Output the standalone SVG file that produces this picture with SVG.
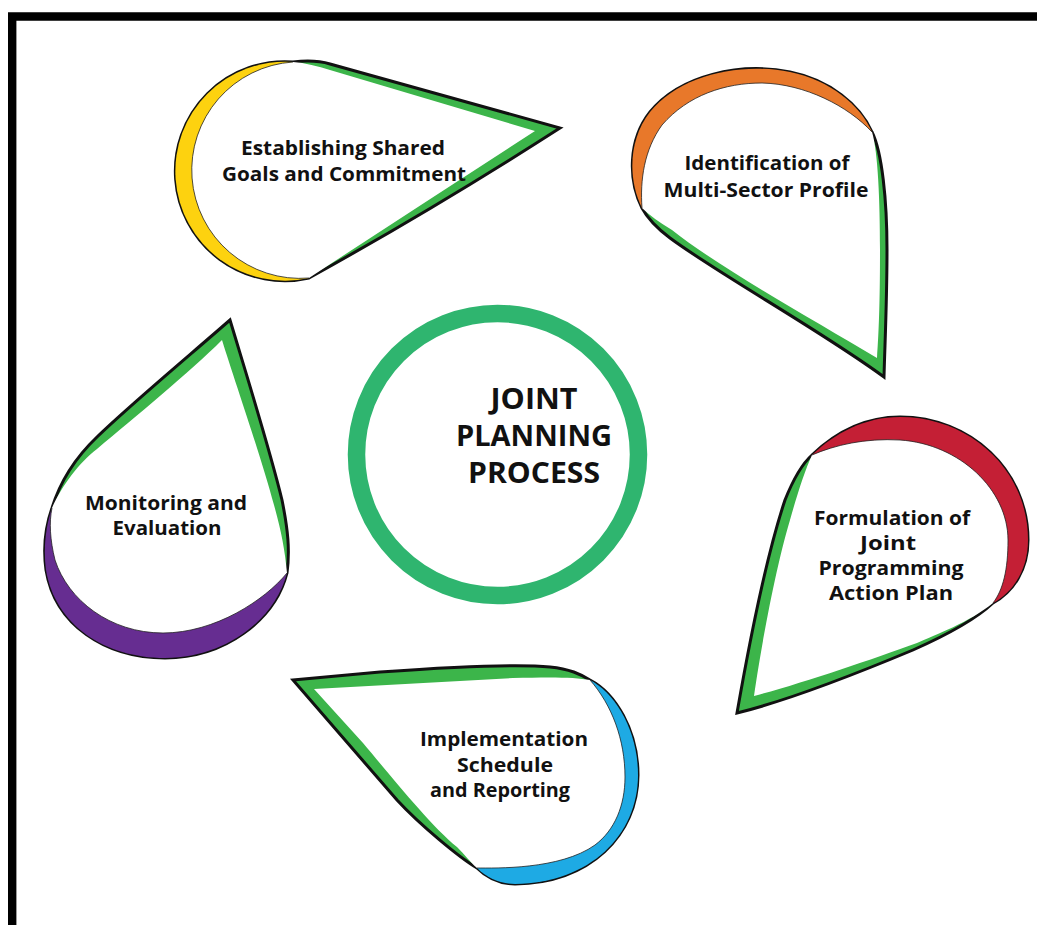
<svg xmlns="http://www.w3.org/2000/svg" width="1037" height="925" viewBox="0 0 1037 925">
<style>
.out{fill:#3cb54a;stroke:#111;stroke-width:3;stroke-linejoin:miter;stroke-miterlimit:12}
.in{fill:#fff}
.edge{fill:none;stroke:#222;stroke-width:0.8}
.lbl{font-family:"Open Sans","Liberation Sans",sans-serif;font-weight:700;font-size:20px;fill:#111;text-anchor:middle}
.big{font-size:28px}
</style>
<rect width="1037" height="925" fill="#fff"/>
<path id="frame" d="M12.2,925 V16.5 H1037" fill="none" stroke="#000" stroke-width="8.4"/>

<g id="center">
<circle cx="497.5" cy="454.5" r="141" fill="#fff" stroke="#2fb56f" stroke-width="17.5"/>
<text class="lbl big" x="534" y="409" textLength="87" lengthAdjust="spacingAndGlyphs">JOINT</text>
<text class="lbl big" x="534" y="446" textLength="156" lengthAdjust="spacingAndGlyphs">PLANNING</text>
<text class="lbl big" x="534" y="483" textLength="132" lengthAdjust="spacingAndGlyphs">PROCESS</text>
</g>

<g id="node-goals">
<path class="out" d="M293,62 C310,60 320,61 330,64 L560,128 Q437,207 309,278 A109.5,109.5 0 1 1 293,62 Z"/>
<path fill="#fdd20f" d="M293,62 A109.5,109.5 0 1 0 309,278 Z"/>
<path class="in" d="M293,62 C305,63 318,66 330,70 L535,131 Q422,204 309,278 A108.3,108.3 0 1 1 293,62 Z"/>
<path class="edge" d="M309,278 A108.3,108.3 0 1 1 293,62"/>
<text class="lbl" x="343" y="155" textLength="204" lengthAdjust="spacingAndGlyphs">Establishing Shared</text>
<text class="lbl" x="344" y="181" textLength="244" lengthAdjust="spacingAndGlyphs">Goals and Commitment</text>
</g>

<g id="node-profile">
<path class="out" d="M642,208 C628,180 628,140 650,112 C680,75 740,62 790,72 C830,80 860,105 872,132 C882,152 887,200 887,250 C887,300 885,340 884,377 C820,330 720,275 670,238 Q650,223 642,208 Z"/>
<path fill="#e8782a" d="M642,208 C628,180 628,140 650,112 C680,75 740,62 790,72 C830,80 860,105 872,132 Z"/>
<path class="in" d="M642,208 C640,180 644,150 662,125 C688,95 725,83 762,83 C805,84 848,106 872,132 C878,152 880,200 880,250 C880,300 879,330 877,358 C810,318 720,268 672,230 Q652,218 642,208 Z"/>
<path class="edge" d="M642,208 C640,180 644,150 662,125 C688,95 725,83 762,83 C805,84 848,106 872,132"/>
<text class="lbl" x="767" y="170" textLength="165" lengthAdjust="spacingAndGlyphs">Identification of</text>
<text class="lbl" x="766" y="197" textLength="205" lengthAdjust="spacingAndGlyphs">Multi-Sector Profile</text>
</g>

<g id="node-monitoring">
<path class="out" d="M52,508 C60,482 75,458 97,437 C130,405 190,355 230,320 C245,370 270,450 282,500 C288,530 290,550 287,573 C275,620 225,658 165,658 C105,658 55,625 46,570 C43,548 46,525 52,508 Z"/>
<path fill="#662d91" d="M287,573 C275,620 225,658 165,658 C105,658 55,625 46,570 C43,548 46,525 52,508 Z"/>
<path class="in" d="M52,508 C62,485 80,462 97,449 C135,417 190,372 222,340 C235,382 261,456 274,505 C281,530 285,550 287,573 C265,600 215,633 163,633 C110,633 68,600 55,560 C50,540 49,522 52,508 Z"/>
<path class="edge" d="M287,573 C265,600 215,633 163,633 C110,633 68,600 55,560 C50,540 49,522 52,508"/>
<text class="lbl" x="166" y="510" textLength="162" lengthAdjust="spacingAndGlyphs">Monitoring and</text>
<text class="lbl" x="167" y="535" textLength="109" lengthAdjust="spacingAndGlyphs">Evaluation</text>
</g>

<g id="node-action">
<path class="out" d="M812,455 C835,433 865,417 900,417 C970,417 1028,470 1028,540 C1028,570 1013,592 993,603 C975,620 940,638 913,650 C870,668 790,700 737,713 C748,650 765,560 785,500 C795,475 803,463 812,455 Z"/>
<path fill="#c41f35" d="M812,455 C835,433 865,417 900,417 C970,417 1028,470 1028,540 C1028,570 1013,592 993,603 Z"/>
<path class="in" d="M812,455 C835,445 865,438 900,440 C960,444 1008,490 1008,540 C1008,570 1003,590 993,603 C970,622 935,635 917,643 C870,660 800,684 754,696 C761,648 775,570 790,520 C797,495 805,470 812,455 Z"/>
<path class="edge" d="M812,455 C835,445 865,438 900,440 C960,444 1008,490 1008,540 C1008,570 1003,590 993,603"/>
<text class="lbl" x="892" y="525" textLength="156" lengthAdjust="spacingAndGlyphs">Formulation of</text>
<text class="lbl" x="888" y="550" textLength="56" lengthAdjust="spacingAndGlyphs">Joint</text>
<text class="lbl" x="891" y="575" textLength="145" lengthAdjust="spacingAndGlyphs">Programming</text>
<text class="lbl" x="891" y="600" textLength="124" lengthAdjust="spacingAndGlyphs">Action Plan</text>
</g>

<g id="node-implementation">
<path class="out" d="M590,680 C615,693 638,730 638,775 C638,835 590,883 515,884 C500,884 487,878 477,868 C460,858 420,825 397,800 L293,680 L380,672 C450,667 520,664 550,667 C570,669 580,674 590,680 Z"/>
<path fill="#1eaae4" d="M590,680 C615,693 638,730 638,775 C638,835 590,883 515,884 C500,884 487,878 477,868 Z"/>
<path class="in" d="M590,680 C575,677 550,677 513,678 L314,689 L363,743 C390,775 430,825 457,847 C465,855 470,862 477,868 C495,868 560,870 595,845 C615,830 625,805 625,777 C625,740 612,705 590,680 Z"/>
<path class="edge" d="M477,868 C495,868 560,870 595,845 C615,830 625,805 625,777 C625,740 612,705 590,680"/>
<text class="lbl" x="504" y="746" textLength="168" lengthAdjust="spacingAndGlyphs">Implementation</text>
<text class="lbl" x="505" y="772" textLength="96" lengthAdjust="spacingAndGlyphs">Schedule</text>
<text class="lbl" x="500" y="797" textLength="140" lengthAdjust="spacingAndGlyphs">and Reporting</text>
</g>
</svg>
